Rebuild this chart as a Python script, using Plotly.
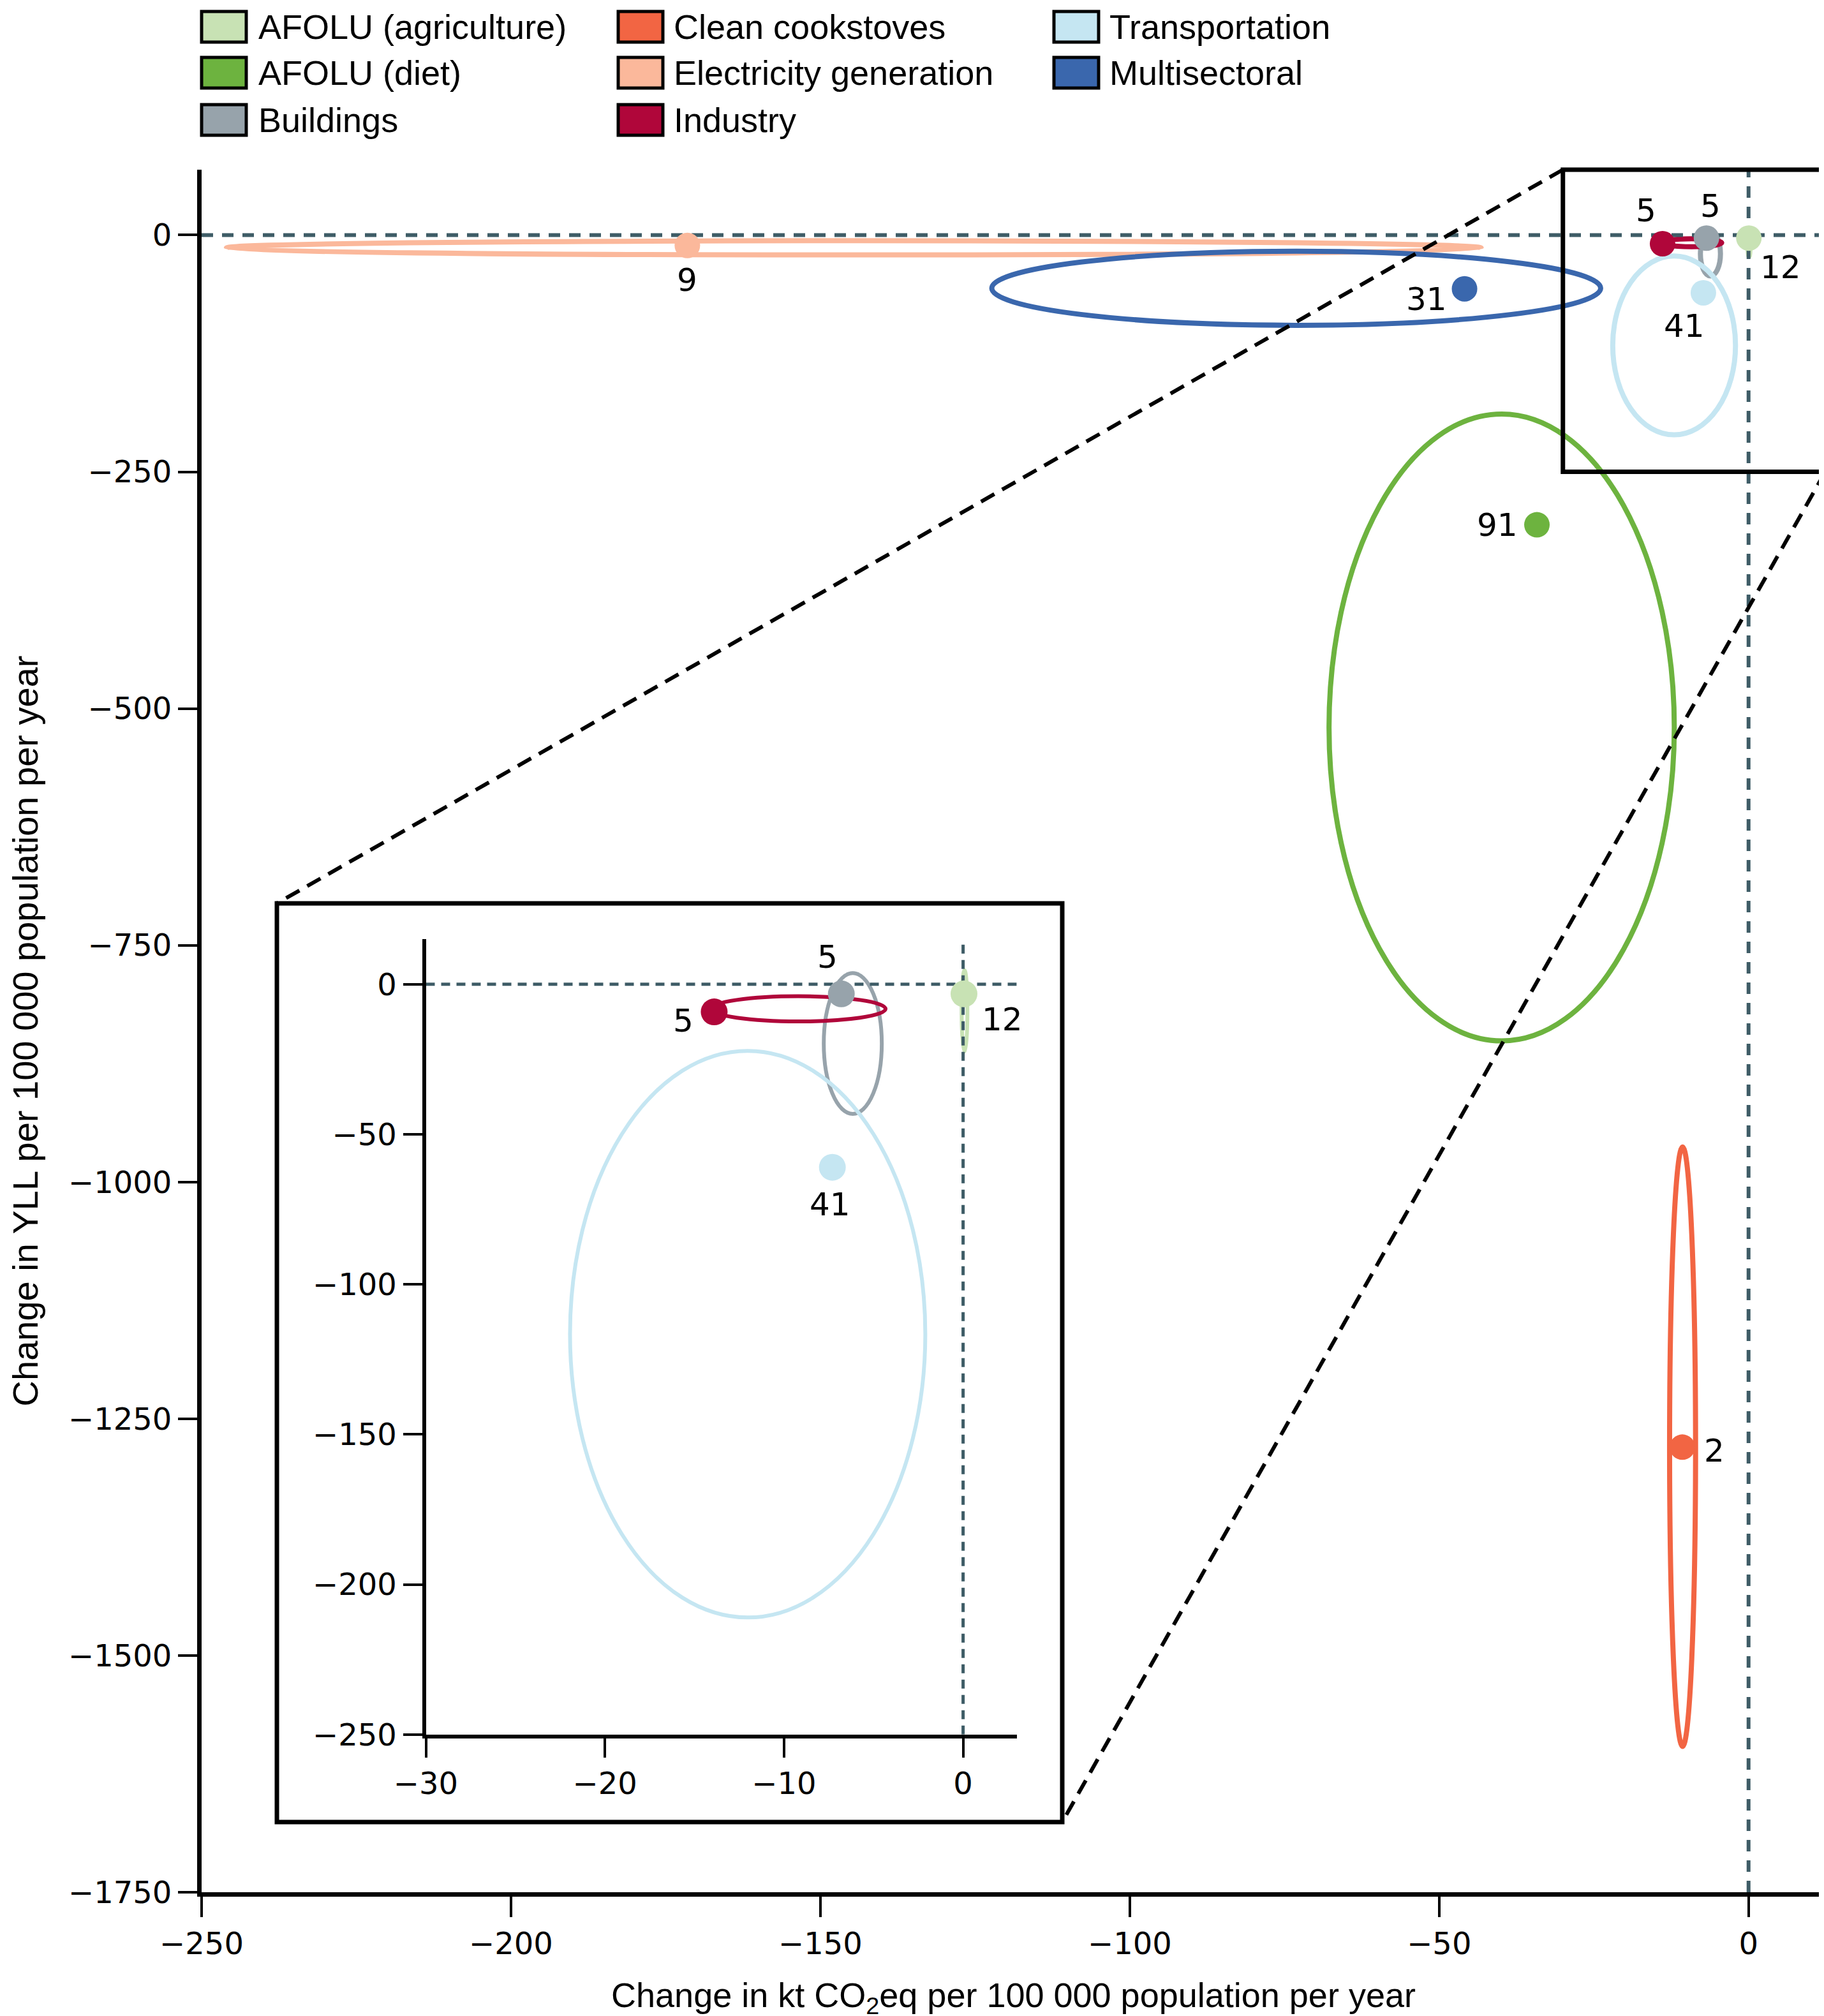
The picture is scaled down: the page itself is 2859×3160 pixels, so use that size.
import plotly.graph_objects as go

# ---------------- data ----------------
sectors = ["AFOLU (agriculture)", "AFOLU (diet)", "Buildings", "Clean cookstoves",
           "Electricity generation", "Industry", "Transportation", "Multisectoral"]
colors = ["#c8e2b4", "#6db33f", "#97a3ab", "#f26543",
          "#fbb89b", "#b0063a", "#c5e6f2", "#3a67ad"]
n_studies = [12, 91, 5, 2, 9, 5, 41, 31]
# point estimates
pt_x = [0.05, -34.2, -6.8, -10.7, -171.5, -13.9, -7.3, -45.9]
pt_y = [-3.2, -306.0, -3.2, -1280.0, -11.0, -9.2, -61.0, -56.8]
# ellipse centre and semi-axes
ell_cx = [0.08, -39.9, -6.16, -10.66, -144.6, -9.2, -12.03, -73.1]
ell_rx = [0.16, 27.9, 1.62, 2.1, 101.4, 4.87, 9.92, 49.2]
ell_cy = [-8.85, -520.0, -19.75, -1279.5, -13.5, -8.2, -116.6, -56.2]
ell_ry = [13.55, 331.0, 23.45, 316.5, 7.5, 4.2, 94.4, 39.1]
inset_sectors = ["AFOLU (agriculture)", "Buildings", "Industry", "Transportation"]

main_xticks = [-250, -200, -150, -100, -50, 0]
main_yticks = [0, -250, -500, -750, -1000, -1250, -1500, -1750]
inset_xticks = [-30, -20, -10, 0]
inset_yticks = [0, -50, -100, -150, -200, -250]

# ---------------- styles / positions ----------------
W, H = 2859, 3160
ML, MR, MT, MB = 308, 6, 258, 202
PW, PH = W - ML - MR, H - MT - MB
XR = [-250, 12.4]
YR = [-1750, 69]
IXR = [-30, 3]
IYR = [-250, 15]
ZOOM_X0, ZOOM_Y0 = -30, -250


def px_to_paper_x(px):
    return (px - ML) / PW


def px_to_paper_y(py):
    return (H - MB - py) / PH


def data_to_paper_x(v):
    return (v - XR[0]) / (XR[1] - XR[0])


def data_to_paper_y(v):
    return (v - YR[0]) / (YR[1] - YR[0])


inset_xdom = [px_to_paper_x(659.5), px_to_paper_x(1585.8)]
inset_ydom = [px_to_paper_y(2710.8), px_to_paper_y(1464.2)]
box = dict(x0=px_to_paper_x(426), x1=px_to_paper_x(1657),
           y0=px_to_paper_y(2848), y1=px_to_paper_y(1408))

main_off = {"AFOLU (agriculture)": (50, -46), "AFOLU (diet)": (-62, 0),
            "Buildings": (6, 50), "Clean cookstoves": (50, -6),
            "Electricity generation": (0, -54), "Industry": (-26, 52),
            "Transportation": (-30, -52), "Multisectoral": (-60, -16)}
inset_off = {"AFOLU (agriculture)": (60, -40), "Buildings": (-22, 58),
             "Industry": (-48, -14), "Transportation": (-4, -58)}

TICKFONT = dict(family="DejaVu Sans", size=48, color="black")
LABELFONT = dict(family="DejaVu Sans", size=50, color="black")
SANS = "Liberation Sans Narrow, Liberation Sans, sans-serif"
ZERO = "#3e5c66"

fig = go.Figure()
shapes = []
annotations = []

for i, s in enumerate(sectors):
    c = colors[i]
    # main panel
    fig.add_trace(go.Scatter(x=[pt_x[i]], y=[pt_y[i]], mode="markers", name=s,
                             marker=dict(size=40, color=c), showlegend=False,
                             xaxis="x", yaxis="y"))
    shapes.append(dict(type="circle", xref="x", yref="y", layer="below",
                       x0=ell_cx[i] - ell_rx[i], x1=ell_cx[i] + ell_rx[i],
                       y0=ell_cy[i] - ell_ry[i], y1=ell_cy[i] + ell_ry[i],
                       line=dict(color=c, width=8)))
    dx, dy = main_off[s]
    annotations.append(dict(x=pt_x[i], y=pt_y[i], xref="x", yref="y", text=str(n_studies[i]),
                            showarrow=False, xshift=dx, yshift=dy, font=LABELFONT))
    # inset panel
    if s in inset_sectors:
        fig.add_trace(go.Scatter(x=[pt_x[i]], y=[pt_y[i]], mode="markers", name=s,
                                 marker=dict(size=42, color=c), showlegend=False,
                                 xaxis="x2", yaxis="y2"))
        shapes.append(dict(type="circle", xref="x2", yref="y2", layer="below",
                           x0=ell_cx[i] - ell_rx[i], x1=ell_cx[i] + ell_rx[i],
                           y0=ell_cy[i] - ell_ry[i], y1=ell_cy[i] + ell_ry[i],
                           line=dict(color=c, width=6)))
        dx, dy = inset_off[s]
        annotations.append(dict(x=pt_x[i], y=pt_y[i], xref="x2", yref="y2", text=str(n_studies[i]),
                                showarrow=False, xshift=dx, yshift=dy, font=LABELFONT))

# zero reference lines
shapes += [
    dict(type="line", xref="x", yref="y", layer="below", x0=XR[0], x1=XR[1], y0=0, y1=0,
         line=dict(color=ZERO, width=6, dash="18px,14px")),
    dict(type="line", xref="x", yref="y", layer="below", x0=0, x1=0, y0=YR[0], y1=YR[1],
         line=dict(color=ZERO, width=6, dash="18px,14px")),
    dict(type="line", xref="x2", yref="y2", layer="below", x0=IXR[0], x1=IXR[1], y0=0, y1=0,
         line=dict(color=ZERO, width=5, dash="14px,10px")),
    dict(type="line", xref="x2", yref="y2", layer="below", x0=0, x1=0, y0=IYR[0], y1=IYR[1],
         line=dict(color=ZERO, width=5, dash="14px,10px")),
]

# zoom rectangle in main, inset frame, connectors
zx0, zy0 = data_to_paper_x(ZOOM_X0), data_to_paper_y(ZOOM_Y0)
shapes += [
    dict(type="rect", xref="paper", yref="paper", x0=zx0, x1=1.0, y0=zy0, y1=1.0,
         line=dict(color="black", width=7)),
    dict(type="rect", xref="paper", yref="paper", **box, line=dict(color="black", width=7)),
    dict(type="line", xref="paper", yref="paper", x0=zx0, y0=1.0, x1=box["x0"], y1=box["y1"],
         line=dict(color="black", width=6, dash="24px,14px")),
    dict(type="line", xref="paper", yref="paper", x0=1.0, y0=zy0, x1=box["x1"], y1=box["y0"],
         line=dict(color="black", width=6, dash="24px,14px")),
]

# legend (3 columns, column-major)
col_box_px = [308, 961, 1644]
col_text_px = [395, 1046, 1729]
row_px = [34, 106, 180]
for i, s in enumerate(sectors):
    col, row = divmod(i, 3)
    bx = col_box_px[col]
    cy = row_px[row]
    shapes.append(dict(type="rect", xref="paper", yref="paper",
                       x0=px_to_paper_x(bx), x1=px_to_paper_x(bx + 70),
                       y0=px_to_paper_y(cy + 24), y1=px_to_paper_y(cy - 24),
                       fillcolor=colors[i], line=dict(color="black", width=5)))
    annotations.append(dict(x=px_to_paper_x(col_text_px[col]), y=px_to_paper_y(cy),
                            xref="paper", yref="paper", xanchor="left", yanchor="middle",
                            text=s, showarrow=False,
                            font=dict(family=SANS, size=54, color="black")))

axis_common = dict(showgrid=False, zeroline=False, showline=True, linecolor="black",
                   ticks="outside", tickcolor="black", tickfont=TICKFONT)

fig.update_layout(
    width=W, height=H, margin=dict(l=ML, r=MR, t=MT, b=MB),
    paper_bgcolor="white", plot_bgcolor="rgba(0,0,0,0)", showlegend=False,
    xaxis=dict(**axis_common, domain=[0, 1], range=XR, tickvals=main_xticks,
               linewidth=7, ticklen=32, tickwidth=4, anchor="y",
               title=dict(text="Change in kt CO<sub>2</sub>eq per 100 000 population per year",
                          font=dict(family=SANS, size=54, color="black"), standoff=38)),
    yaxis=dict(**axis_common, domain=[0, 1], range=YR, tickvals=main_yticks,
               linewidth=7, ticklen=30, tickwidth=4, anchor="x",
               title=dict(text="Change in YLL per 100 000 population per year",
                          font=dict(family=SANS, size=56, color="black"), standoff=44)),
    xaxis2=dict(**axis_common, domain=inset_xdom, range=IXR, tickvals=inset_xticks,
                linewidth=6, ticklen=30, tickwidth=4, anchor="y2"),
    yaxis2=dict(**axis_common, domain=inset_ydom, range=IYR, tickvals=inset_yticks,
                linewidth=6, ticklen=30, tickwidth=4, anchor="x2"),
    shapes=shapes, annotations=annotations,
)

fig.write_html("out.html")
